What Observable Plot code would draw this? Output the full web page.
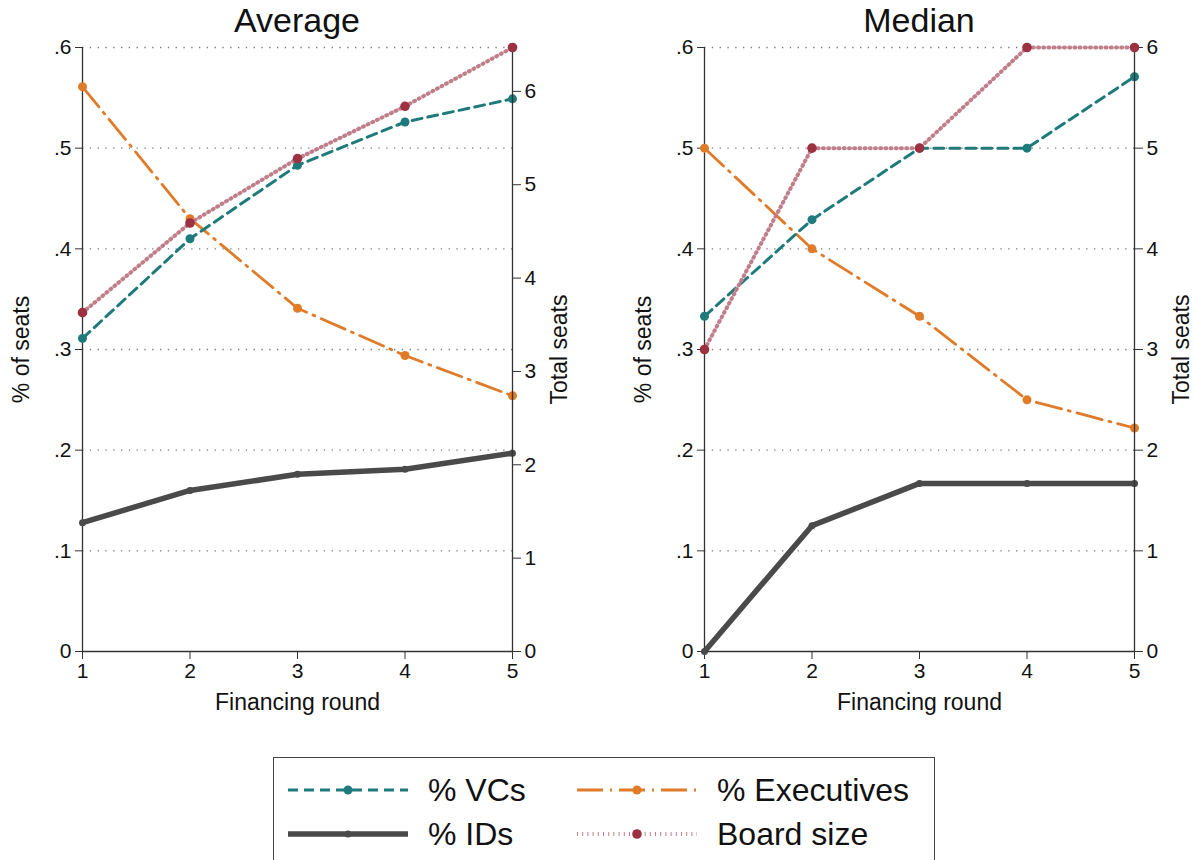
<!DOCTYPE html>
<html>
<head>
<meta charset="utf-8">
<script src="https://cdn.jsdelivr.net/npm/d3@7"></script>
<script src="https://cdn.jsdelivr.net/npm/@observablehq/plot@0.6"></script>
<style>
  html, body { margin: 0; padding: 0; background: #fff; }
  #root { position: relative; width: 1194px; height: 860px; overflow: hidden; font-family: "Liberation Sans", Arial, sans-serif; }
  .panel { position: absolute; top: 0; }
  .panel svg { position: absolute; left: 0; top: 0; }
  .title { position: absolute; font-size: 34px; color: #111; text-align: center; transform: translateX(-50%); white-space: nowrap; line-height: 40px; }
  #legend { position: absolute; left: 273px; top: 757px; width: 662px; height: 130px; border: 1.5px solid #444; box-sizing: border-box; }
  .li { position: absolute; display: flex; align-items: center; font-size: 32px; color: #111; white-space: nowrap; height: 40px; }
  .li svg { margin-right: 19px; }
</style>
</head>
<body>
<div id="root"></div>
<script>
// ---------------- data ----------------
const rounds = [1, 2, 3, 4, 5];
const panelTitles = ["Average", "Median"];
const seriesNames = ["% VCs", "% Executives", "% IDs", "Board size"];
const axisTitles = ["% of seats", "Total seats", "Financing round"];

const avgVCs   = [0.311, 0.410, 0.483, 0.526, 0.549];
const avgExec  = [0.561, 0.430, 0.341, 0.294, 0.254];
const avgIDs   = [0.128, 0.160, 0.176, 0.181, 0.197];
const avgBoard = [3.63, 4.59, 5.28, 5.84, 6.47];

const medVCs   = [0.333, 0.429, 0.500, 0.500, 0.571];
const medExec  = [0.500, 0.400, 0.333, 0.250, 0.222];
const medIDs   = [0.000, 0.125, 0.167, 0.167, 0.167];
const medBoard = [3, 5, 5, 6, 6];

const pctTicks  = [0, 0.1, 0.2, 0.3, 0.4, 0.5, 0.6];
const seatTicks = [0, 1, 2, 3, 4, 5, 6];
const avgSeatMax = 6.47;
const medSeatMax = 6;

// ---------------- styles ----------------
const FONT = '"Liberation Sans", Arial, sans-serif';
const styles = {
  vcs:   {color: "#1f7b7b", width: 3,   dash: "10,6",       dot: "#1f7b7b", r: 4.5},
  exec:  {color: "#e07b2a", width: 2.8, dash: "26,7,2,7",   dot: "#e07b2a", r: 4.5},
  ids:   {color: "#4a4a4a", width: 5.5, dash: null,         dot: "#4a4a4a", r: 3.5},
  board: {color: "#c07e8b", width: 4,   dash: "1,4.2",      dot: "#9b3141", r: 4.8}
};
const axisColor = "#333";
const pctFmt = d => d === 0 ? "0" : d3.format(".1f")(d).replace(/^0/, "");

const H = 720, MT = 47, MB = 69;
const FS = 21, LFS = 23;

function lineMarks(rows, key, st) {
  const o = {x: "round", y: key, stroke: st.color, strokeWidth: st.width, strokeLinejoin: "round"};
  if (st.dash) o.strokeDasharray = st.dash;
  return [
    Plot.line(rows, o),
    Plot.dot(rows, {x: "round", y: key, fill: st.dot, r: st.r, stroke: "none"})
  ];
}

function enlargeLabels(svg) {
  svg.querySelectorAll("text").forEach(el => {
    if (axisTitles.includes(el.textContent.trim())) el.style.fontSize = LFS + "px";
  });
}

function panel(root, title, vcs, exec, ids, board, seatMax, left, W, ML, MR) {
  const rows = rounds.map((r, i) => ({round: r, vcs: vcs[i], exec: exec[i], ids: ids[i], board: board[i]}));
  const div = document.createElement("div");
  div.className = "panel";
  div.style.left = left + "px";
  div.style.width = W + "px";
  div.style.height = H + "px";
  const common = {
    width: W, height: H, marginLeft: ML, marginRight: MR, marginTop: MT, marginBottom: MB,
    style: {fontFamily: FONT, fontSize: FS + "px", color: "#111", background: "transparent", overflow: "visible"}
  };
  const base = Plot.plot({
    ...common,
    x: {domain: [1, 5]},
    y: {domain: [0, 0.6]},
    marks: [
      Plot.gridY(pctTicks.filter(d => d > 0), {stroke: "#777", strokeOpacity: 1, strokeWidth: 1.3, strokeDasharray: "1.3,6.5"}),
      Plot.axisY(pctTicks, {tickFormat: pctFmt, tickSize: 7, tickPadding: 4, stroke: axisColor, fontSize: FS,
        label: axisTitles[0], labelAnchor: "center", labelArrow: "none", labelOffset: 70}),
      Plot.axisX(rounds, {tickFormat: d => String(d), tickSize: 8, tickPadding: 4, stroke: axisColor, fontSize: FS,
        label: axisTitles[2], labelAnchor: "center", labelArrow: "none", labelOffset: 58}),
      Plot.ruleX([1], {stroke: axisColor, strokeWidth: 1.3}),
      Plot.ruleY([0], {stroke: axisColor, strokeWidth: 1.3}),
      ...lineMarks(rows, "ids", styles.ids),
      ...lineMarks(rows, "exec", styles.exec),
      ...lineMarks(rows, "vcs", styles.vcs)
    ]
  });
  const over = Plot.plot({
    ...common,
    x: {domain: [1, 5], axis: null},
    y: {domain: [0, seatMax]},
    marks: [
      Plot.axisY(seatTicks, {anchor: "right", tickFormat: d => String(d), tickSize: 8, tickPadding: 4, stroke: axisColor, fontSize: FS,
        label: axisTitles[1], labelAnchor: "center", labelArrow: "none", labelOffset: 54}),
      Plot.ruleX([5], {stroke: axisColor, strokeWidth: 1.3}),
      ...lineMarks(rows, "board", styles.board)
    ]
  });
  enlargeLabels(base); enlargeLabels(over);
  div.appendChild(base);
  div.appendChild(over);
  const t = document.createElement("div");
  t.className = "title";
  t.textContent = title;
  t.style.left = (ML + (W - ML - MR) / 2) + "px";
  t.style.top = "0px";
  div.appendChild(t);
  root.appendChild(div);
}

const root = document.getElementById("root");
panel(root, panelTitles[0], avgVCs, avgExec, avgIDs, avgBoard, avgSeatMax, 0, 597, 82, 85);
panel(root, panelTitles[1], medVCs, medExec, medIDs, medBoard, medSeatMax, 622, 572, 82, 60);

// ---------------- legend ----------------
const legend = document.createElement("div");
legend.id = "legend";
const keys = ["vcs", "exec", "ids", "board"];
const pos = [[13, 32], [302, 32], [13, 76], [302, 76]];
keys.forEach((k, i) => {
  const st = styles[k];
  const item = document.createElement("div");
  item.className = "li";
  item.style.left = pos[i][0] + "px";
  item.style.top = (pos[i][1] - 20) + "px";
  const ns = "http://www.w3.org/2000/svg";
  const svg = document.createElementNS(ns, "svg");
  svg.setAttribute("width", 122);
  svg.setAttribute("height", 20);
  const ln = document.createElementNS(ns, "line");
  ln.setAttribute("x1", 1); ln.setAttribute("x2", 121);
  ln.setAttribute("y1", 10); ln.setAttribute("y2", 10);
  ln.setAttribute("stroke", st.color);
  ln.setAttribute("stroke-width", st.width);
  if (st.dash) ln.setAttribute("stroke-dasharray", st.dash);
  svg.appendChild(ln);
  const c = document.createElementNS(ns, "circle");
  c.setAttribute("cx", 61); c.setAttribute("cy", 10); c.setAttribute("r", st.r);
  c.setAttribute("fill", st.dot);
  svg.appendChild(c);
  item.appendChild(svg);
  const tx = document.createElement("span");
  tx.textContent = seriesNames[i];
  item.appendChild(tx);
  legend.appendChild(item);
});
root.appendChild(legend);
</script>
</body>
</html>
